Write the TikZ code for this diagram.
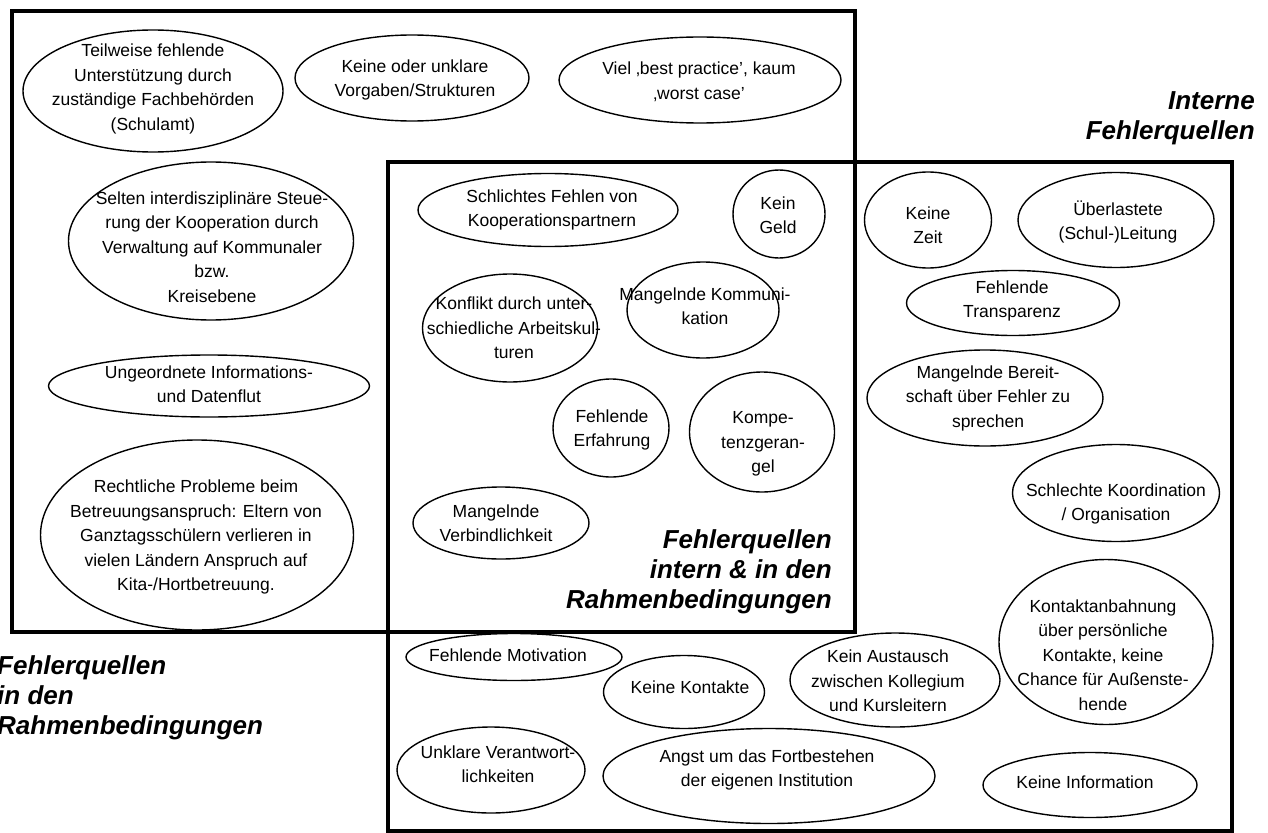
\documentclass[tikz,border=0pt]{standalone}
\usepackage{fontspec}
\setmainfont{Liberation Sans}
\usetikzlibrary{shapes.geometric}
\newcommand\fs{\fontsize{17.5}{24.5}\selectfont}
\newcommand\ft{\fontsize{26}{30}\selectfont\bfseries\itshape}
\newcommand\blob[8]{%
  \node[blob, minimum width=#4pt, minimum height=#5pt] (#1) at (#2,#3) {};
  \node[txt] (#1t) at (#6,#7) {#8};
}
\tikzset{
  blob/.style={ellipse, draw=black, line width=1.4pt, inner sep=0pt},
  txt/.style={align=center, font=\fs, inner sep=0pt},
  frame/.style={draw=black, line width=4.8pt},
  heading/.style={font=\ft, inner sep=0pt}
}
\begin{document}
\begin{tikzpicture}[x=1pt, y=-1pt]
\useasboundingbox (0,0) rectangle (1268,832);
\fill[white] (0,0) rectangle (1268,832);
% frames
\draw[frame] (12,11) rectangle (855,632);
\draw[frame] (388,162) rectangle (1232,831);
% left-only region
\blob{tw}{153}{91}{260}{122}{153}{89}{Teilweise fehlende\\Unterstützung durch\\zuständige Fachbehörden\\(Schulamt)}
\blob{ko}{412}{78}{234}{86}{415}{80}{Keine oder unklare\\Vorgaben/Strukturen}
\blob{vi}{700}{80}{282}{86}{699}{82}{Viel ‚best practice’, kaum\\‚worst case’}
\blob{se}{211}{241}{285}{158}{212}{247}{Selten interdisziplinäre Steue-\\rung der Kooperation durch\\Verwaltung auf Kommunaler\\bzw.\\Kreisebene}
\blob{un}{209}{386}{321}{62}{209}{384}{Ungeordnete Informations-\\und Datenflut}
\blob{re}{197}{535}{313}{190}{196}{537}{Rechtliche Probleme beim\\Betreuungsanspruch: Eltern von\\Ganztagsschülern verlieren in\\vielen Ländern Anspruch auf\\Kita-/Hortbetreuung.}
% overlap region
\blob{sc}{548}{210}{260}{73}{552}{210}{Schlichtes Fehlen von\\Kooperationspartnern}
\blob{kg}{779}{214}{92}{88}{778}{215}{Kein\\Geld}
\blob{kf}{510}{328}{175}{108}{514}{328}{Konflikt durch unter-\\schiedliche Arbeitskul-\\turen}
\blob{mk}{703}{310}{152}{96}{705}{306}{Mangelnde Kommuni-\\kation}
\blob{fe}{611}{428}{116}{98}{612}{430}{Fehlende\\Erfahrung}
\blob{kp}{762}{432}{145}{120}{763}{444}{Kompe-\\tenzgeran-\\gel}
\blob{mv}{501}{523}{176}{72}{496}{523}{Mangelnde\\Verbindlichkeit}
% right-only region
\blob{kz}{928}{220}{127}{96}{928}{225}{Keine\\Zeit}
\blob{ue}{1116}{220}{196}{95}{1118}{222}{Überlastete\\(Schul-)Leitung}
\blob{ft}{1013}{303}{213}{65}{1012}{301}{Fehlende\\Transparenz}
\blob{mb}{985}{398}{236}{96}{988}{398}{Mangelnde Bereit-\\schaft über Fehler zu\\sprechen}
\blob{sk}{1116}{493}{207}{97}{1116}{504}{Schlechte Koordination\\/ Organisation}
\blob{kb}{1106}{642}{214}{165}{1103}{655}{Kontaktanbahnung\\über persönliche\\Kontakte, keine\\Chance für Außenste-\\hende}
\blob{fm}{514}{657}{216}{47}{508}{655}{Fehlende Motivation}
\blob{kk}{684}{692}{161}{73}{690}{687}{Keine Kontakte}
\blob{ka}{895}{680}{210}{94}{888}{681}{Kein Austausch\\zwischen Kollegium\\und Kursleitern}
\blob{ua}{491}{770}{188}{86}{498}{764}{Unklare Verantwort-\\lichkeiten}
\blob{an}{769}{776}{332}{95}{767}{770}{Angst um das Fortbestehen\\der eigenen Institution}
\blob{ki}{1090}{785}{214}{65}{1085}{782}{Keine Information}
% headings
\node[heading, anchor=east, align=right] (hint) at (1255,118) {Interne\\Fehlerquellen};
\node[heading, anchor=east, align=right] (hmid) at (832,572) {Fehlerquellen\\intern \& in den\\Rahmenbedingungen};
\node[heading, anchor=west, align=left] (hrb) at (-3,698) {Fehlerquellen\\in den\\Rahmenbedingungen};
\end{tikzpicture}
\end{document}
